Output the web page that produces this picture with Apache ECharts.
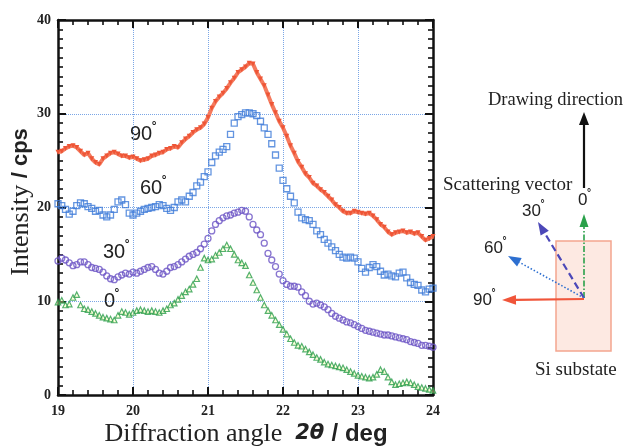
<!DOCTYPE html>
<html>
<head>
<meta charset="utf-8">
<script src="https://cdn.jsdelivr.net/npm/echarts@6/dist/echarts.min.js"></script>
<style>html,body{margin:0;padding:0;background:#fff;}#c{width:623px;height:446px;}</style>
</head>
<body>
<div id="c"></div>
<script>
// Sampling grid of diffraction angle 2θ (deg)
const angles = [];
for (let i = 0; i <= 100; i++) angles.push(+(19 + i * 0.05).toFixed(2));

const xTicks = [19, 20, 21, 22, 23, 24];
const yTicks = [0, 10, 20, 30, 40];
const seriesNames = ['90°', '60°', '30°', '0°'];

const int90 = [25.9,26.0,26.3,26.5,26.6,26.4,26.0,25.6,25.8,25.2,24.8,24.6,25.2,25.5,25.8,25.9,25.7,25.5,25.5,25.3,
25.4,25.2,25.0,25.1,25.2,25.5,25.6,25.8,25.9,26.2,26.3,26.5,26.4,26.9,27.3,27.6,28.0,28.3,28.5,28.9,
29.6,30.6,31.3,31.8,32.2,32.7,33.3,33.8,34.4,34.7,35.0,35.4,35.3,34.4,33.7,33.0,32.0,31.0,30.1,29.2,
28.5,27.6,26.6,25.8,24.9,24.3,23.6,23.2,22.6,22.3,21.9,21.6,21.2,20.8,20.3,20.0,19.6,19.4,19.4,19.6,
19.5,19.4,19.3,19.4,19.1,18.7,18.2,17.9,17.4,17.1,17.3,17.4,17.5,17.3,17.4,17.2,17.3,16.9,16.5,16.7,16.9];

const int60 = [20.4,20.2,19.8,19.3,19.6,20.2,20.5,20.4,20.1,19.9,19.6,19.7,19.2,19.0,19.2,19.8,20.6,20.8,20.3,19.4,
19.2,19.4,19.6,19.8,19.9,20.0,20.1,20.3,20.2,19.9,19.7,20.0,20.6,20.8,20.6,21.2,21.6,22.3,22.7,23.3,
23.8,24.8,25.5,25.9,26.2,26.5,27.8,29.0,29.7,29.9,30.1,30.1,30.0,29.8,29.2,28.5,27.8,26.8,25.6,24.2,
22.9,22.0,21.2,20.5,19.5,18.9,18.7,18.6,18.2,17.5,17.1,16.6,16.2,15.8,15.4,15.0,14.7,14.6,14.7,14.6,
14.2,13.5,13.1,13.6,13.9,13.7,13.2,12.8,12.9,12.7,12.6,13.0,13.1,12.5,12.0,11.8,11.7,11.2,11.0,11.3,11.4];

const int30 = [14.3,14.6,14.4,14.1,13.8,13.9,14.2,14.2,13.9,13.6,13.5,13.4,13.1,12.7,12.4,12.3,12.6,12.8,13.0,12.9,
13.1,13.0,13.2,13.4,13.6,13.7,13.4,13.0,12.9,13.2,13.6,13.7,13.9,14.2,14.5,14.8,15.0,15.2,15.6,16.1,
16.7,17.5,18.2,18.6,18.9,19.1,19.2,19.4,19.5,19.7,19.6,19.0,18.2,17.6,17.1,16.2,15.1,14.4,13.7,12.9,
12.2,11.8,11.6,11.6,11.5,11.0,10.6,10.0,9.7,9.8,9.6,9.4,9.1,8.7,8.4,8.2,8.0,7.8,7.7,7.5,
7.3,7.1,6.9,6.8,6.7,6.6,6.5,6.4,6.4,6.3,6.2,6.1,6.0,5.9,5.7,5.6,5.5,5.3,5.3,5.2,5.1];

const int0 = [9.9,10.1,9.6,9.7,10.4,10.7,9.6,9.2,9.1,8.9,8.7,8.5,8.3,8.2,8.1,8.0,8.5,8.9,8.8,8.6,
8.8,9.0,9.1,9.0,8.9,9.0,8.9,8.8,9.0,9.2,9.6,9.8,10.2,10.6,11.0,11.3,11.8,12.4,13.6,14.6,
14.4,14.5,14.9,15.2,15.6,16.0,15.6,15.0,14.4,14.1,13.8,12.8,12.0,11.2,10.4,9.6,9.0,8.5,8.0,7.5,
7.0,6.5,6.0,5.6,5.3,5.2,4.9,4.6,4.3,4.0,3.8,3.5,3.3,3.2,3.1,3.0,2.9,2.7,2.5,2.3,
2.1,2.0,1.9,1.8,1.9,2.2,2.7,2.5,1.9,1.4,1.1,1.2,1.3,1.4,1.3,1.1,0.9,0.8,0.7,0.6,0.5];

const pairs = arr => angles.map((a, i) => [a, arr[i]]);

const serif = 'Liberation Serif';
const sans = 'Liberation Sans';
const gridBlue = '#7aa6e6';

function axisCommon(showLabel, isX) {
  return {
    type: 'value',
    interval: 10,
    axisLine: { show: true, onZero: false, lineStyle: { color: '#111', width: 2.5 } },
    axisTick: { show: true, inside: true, length: 8, lineStyle: { color: '#111', width: 2 } },
    minorTick: { show: true, splitNumber: isX ? 5 : 10, length: 5, lineStyle: { color: '#111', width: 1.6 } },
    axisLabel: { show: showLabel, fontFamily: serif, fontWeight: 'bold', fontSize: 14, color: '#222' },
    splitLine: { show: false }
  };
}

const xBottom = Object.assign(axisCommon(true, true), {
  min: xTicks[0], max: xTicks[xTicks.length - 1], interval: 1, position: 'bottom',
  splitLine: { show: true, lineStyle: { color: gridBlue, type: 'dotted', width: 1 } }
});
xBottom.axisLabel.margin = 9;
const xTop = Object.assign(axisCommon(false, true), {
  min: xTicks[0], max: xTicks[xTicks.length - 1], interval: 1, position: 'top'
});
const yLeft = Object.assign(axisCommon(true, false), {
  min: yTicks[0], max: yTicks[yTicks.length - 1], interval: 10, position: 'left',
  splitLine: { show: true, lineStyle: { color: gridBlue, type: 'dotted', width: 1 } }
});
yLeft.axisLabel.margin = 7;
const yRight = Object.assign(axisCommon(false, false), {
  min: yTicks[0], max: yTicks[yTicks.length - 1], interval: 10, position: 'right'
});

function degLabel(num, x, y, size) {
  return [
    { type: 'text', x: x, y: y, style: { text: num, fontFamily: sans, fontSize: size, fill: '#222', textVerticalAlign: 'middle' } },
    { type: 'text', x: x + num.length * size * 0.556 - 0.5, y: y - size * 0.38, style: { text: '°', fontFamily: sans, fontWeight: 'bold', fontSize: size * 0.6, fill: '#222', textVerticalAlign: 'middle' } }
  ];
}

function arrow(x1, y1, x2, y2, color, width, dash, headLen, headW) {
  const dx = x2 - x1, dy = y2 - y1, L = Math.sqrt(dx * dx + dy * dy);
  const ux = dx / L, uy = dy / L, px = -uy, py = ux;
  const bx = x2 - ux * headLen, by = y2 - uy * headLen;
  return [
    { type: 'line', shape: { x1: x1, y1: y1, x2: bx, y2: by }, style: { stroke: color, lineWidth: width, lineDash: dash } },
    { type: 'polygon', shape: { points: [[x2, y2], [bx + px * headW, by + py * headW], [bx - px * headW, by - py * headW]] }, style: { fill: color } }
  ];
}

const graphics = [].concat(
  [
    { type: 'text', x: 21, y: 202, rotation: Math.PI / 2, style: {
        text: '{a|Intensity }{b|/ cps}', textAlign: 'center', textVerticalAlign: 'middle',
        rich: { a: { fontFamily: serif, fontSize: 26, fill: '#222' }, b: { fontFamily: sans, fontWeight: 'bold', fontSize: 22, fill: '#222' } } } },
    { type: 'text', x: 246, y: 434, style: {
        text: '{a|Diffraction angle  }{c|2θ }{b|/ deg}', textAlign: 'center', textVerticalAlign: 'middle',
        rich: { a: { fontFamily: serif, fontSize: 26, fill: '#222' }, c: { fontFamily: 'DejaVu Sans', fontWeight: 'bold', fontStyle: 'italic', fontSize: 21, fill: '#222' }, b: { fontFamily: sans, fontWeight: 'bold', fontSize: 24, fill: '#222' } } } }
  ],
  degLabel('90', 130, 134, 20),
  degLabel('60', 140, 188, 20),
  degLabel('30', 103, 252, 20),
  degLabel('0', 104, 301, 20),
  [
    { type: 'rect', shape: { x: 556, y: 241, width: 55, height: 110 }, style: { fill: '#fde9e2', stroke: '#f4a58e', lineWidth: 1.5 } },
    { type: 'text', x: 488, y: 100, style: { text: 'Drawing direction', fontFamily: serif, fontSize: 18.5, fill: '#222', textVerticalAlign: 'middle' } },
    { type: 'text', x: 443, y: 185, style: { text: 'Scattering vector', fontFamily: serif, fontSize: 19, fill: '#222', textVerticalAlign: 'middle' } },
    { type: 'text', x: 535, y: 370, style: { text: 'Si substate', fontFamily: serif, fontSize: 19, fill: '#222', textVerticalAlign: 'middle' } }
  ],
  arrow(584, 188, 584, 112, '#111', 2.2, null, 13, 5),
  arrow(584, 298, 584, 214, '#2aa14a', 1.6, [6, 2, 1.5, 2], 13, 4.5),
  arrow(584, 298, 538, 222, '#4c48b8', 2.2, [7, 4], 13, 4.8),
  arrow(584, 298, 508, 256, '#2d6fd0', 1.6, [1.5, 2], 13, 4.8),
  arrow(584, 299, 502, 300, '#f0553a', 2.2, null, 14, 4.8),
  degLabel('0', 578, 200, 17),
  degLabel('30', 522, 211, 17),
  degLabel('60', 484, 248, 17),
  degLabel('90', 473, 300, 17)
);

const chart = echarts.init(document.getElementById('c'), null, { renderer: 'canvas' });
chart.setOption({
  animation: false,
  backgroundColor: '#fff',
  grid: { left: 58, right: 190, top: 20, bottom: 51, containLabel: false },
  xAxis: [xBottom, xTop],
  yAxis: [yLeft, yRight],
  series: [
    { name: seriesNames[0], type: 'line', xAxisIndex: 0, yAxisIndex: 0, data: pairs(int90),
      symbol: 'triangle', symbolRotate: 180, symbolSize: 5, showSymbol: true,
      lineStyle: { color: '#f47a5e', width: 4 }, itemStyle: { color: '#ee5536' }, z: 2 },
    { name: seriesNames[1], type: 'scatter', xAxisIndex: 0, yAxisIndex: 0, data: pairs(int60),
      symbol: 'rect', symbolSize: 6,
      itemStyle: { color: 'rgba(255,255,255,0)', borderColor: '#3d7bd8', borderWidth: 1.3 }, z: 3 },
    { name: seriesNames[2], type: 'scatter', xAxisIndex: 0, yAxisIndex: 0, data: pairs(int30),
      symbol: 'circle', symbolSize: 6,
      itemStyle: { color: 'rgba(255,255,255,0)', borderColor: '#6a52c4', borderWidth: 1.3 }, z: 3 },
    { name: seriesNames[3], type: 'scatter', xAxisIndex: 0, yAxisIndex: 0, data: pairs(int0),
      symbol: 'triangle', symbolSize: 5.5,
      itemStyle: { color: 'rgba(255,255,170,0.5)', borderColor: '#2a9d4c', borderWidth: 1.2 }, z: 3 }
  ],
  graphic: graphics
});
</script>
</body>
</html>
